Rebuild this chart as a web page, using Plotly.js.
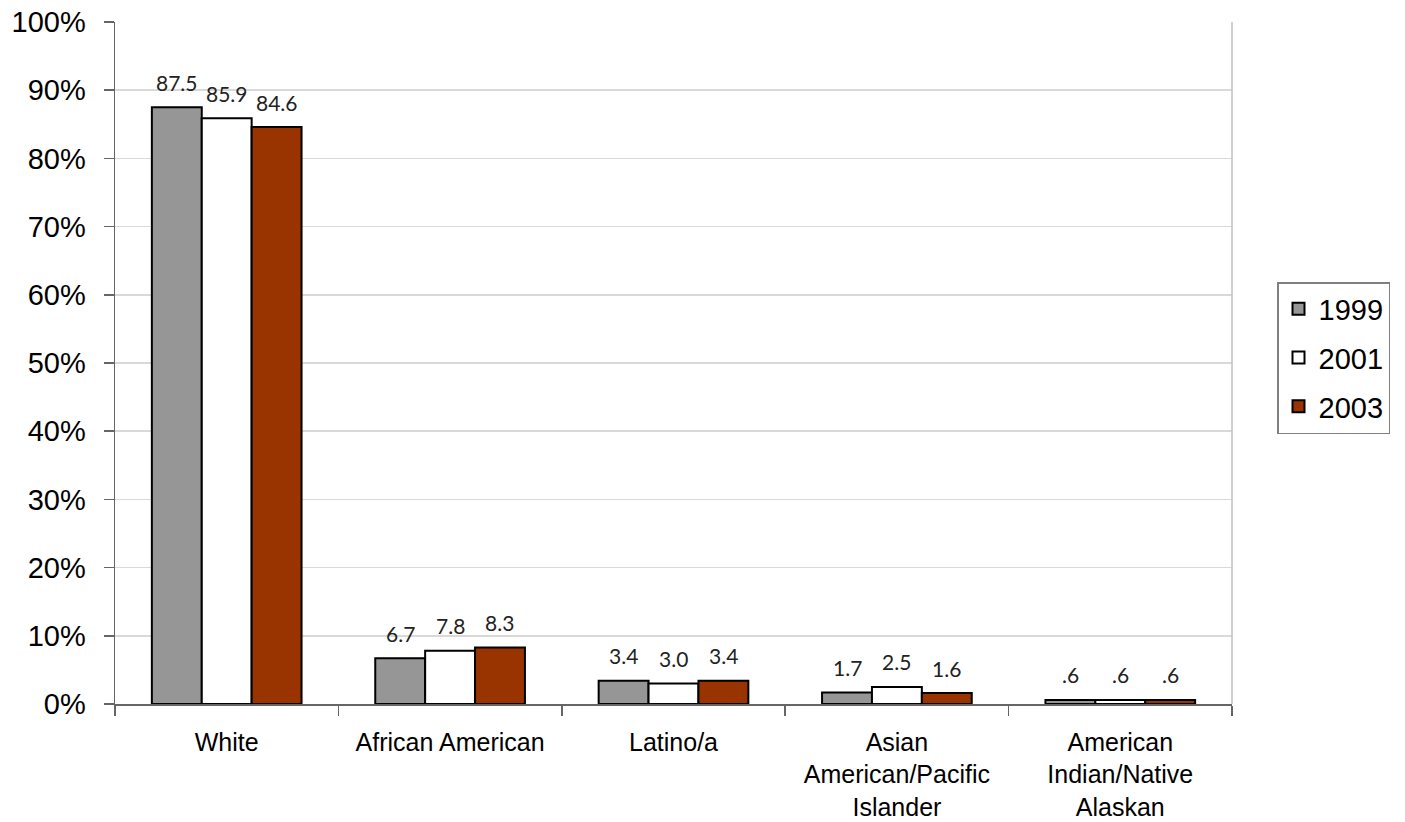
<!DOCTYPE html>
<html>
<head>
<meta charset="utf-8">
<script src="https://cdn.plot.ly/plotly-3.0.1.min.js"></script>
<style>
  html, body { margin: 0; padding: 0; background: #fff; }
  #chart { width: 1405px; height: 822px; }
</style>
</head>
<body>
<div id="chart"></div>
<script>
// Share of students by race/ethnicity, 1999 / 2001 / 2003 (percent)
const categories = [
  'White',
  'African American',
  'Latino/a',
  'Asian<br>American/Pacific<br>Islander',
  'American<br>Indian/Native<br>Alaskan'
];
const years = ['1999', '2001', '2003'];
const values1999 = [87.5, 6.7, 3.4, 1.7, 0.6];
const values2001 = [85.9, 7.8, 3.0, 2.5, 0.6];
const values2003 = [84.6, 8.3, 3.4, 1.6, 0.6];
const labels1999 = ['87.5', '6.7', '3.4', '1.7', '.6'];
const labels2001 = ['85.9', '7.8', '3.0', '2.5', '.6'];
const labels2003 = ['84.6', '8.3', '3.4', '1.6', '.6'];
const yTickValues = [0, 10, 20, 30, 40, 50, 60, 70, 80, 90, 100];
const yTickText = yTickValues.map(v => v + '%');

const series = [values1999, values2001, values2003];
const seriesLabels = [labels1999, labels2001, labels2003];
const fills = ['#969696', '#ffffff', '#993300'];

const W = 1405, H = 822;
const margin = { l: 115, r: 173, t: 22, b: 118 };
const bargap = 0.33;
const plotW = W - margin.l - margin.r;
const catW = plotW / categories.length;
const barPx = catW * (1 - bargap) / years.length;

const traces = years.map((yr, i) => ({
  type: 'bar',
  name: yr,
  x: categories,
  y: series[i],
  legendgroup: yr,
  marker: { color: fills[i], line: { color: '#000000', width: 2 } },
  hoverinfo: 'skip'
}));

// Value labels sit above each bar, shifted sideways to its slot in the group
const annotations = [];
years.forEach((yr, i) => {
  categories.forEach((c, k) => {
    annotations.push({
      x: c, y: series[i][k], xref: 'x', yref: 'y',
      text: seriesLabels[i][k],
      showarrow: false,
      xshift: (i - 1) * barPx,
      yshift: 25,
      yanchor: 'middle',
      font: { family: 'Lato, "DejaVu Sans", sans-serif', size: 21, color: '#222222' }
    });
  });
});

const layout = {
  width: W, height: H,
  margin: margin,
  paper_bgcolor: '#ffffff',
  plot_bgcolor: '#ffffff',
  barmode: 'group',
  bargap: bargap,
  bargroupgap: 0,
  showlegend: true,
  legend: {
    x: (1277 - margin.l) / plotW, xanchor: 'left',
    y: (H - margin.b - 282) / (H - margin.t - margin.b), yanchor: 'top',
    bgcolor: '#ffffff',
    bordercolor: '#808080', borderwidth: 1.5,
    font: { family: '"Liberation Sans", Arial, sans-serif', size: 29, color: '#000000' },
    tracegroupgap: 8,
    itemwidth: 30
  },
  xaxis: {
    type: 'category',
    showline: true, linecolor: '#666666', linewidth: 1.5,
    ticks: 'outside', tickson: 'boundaries', ticklen: 10, tickcolor: '#666666', tickwidth: 1.5,
    showgrid: false,
    tickfont: { family: '"Liberation Sans", Arial, sans-serif', size: 25, color: '#000000' },
    ticklabelstandoff: 15
  },
  yaxis: {
    range: [0, 100],
    tickmode: 'array',
    tickvals: yTickValues,
    ticktext: yTickText,
    showline: true, linecolor: '#666666', linewidth: 1.5,
    ticks: 'outside', ticklen: 10, tickcolor: '#666666', tickwidth: 1.5,
    showgrid: true, gridcolor: '#d9d9d9', gridwidth: 1.5,
    zeroline: false,
    tickfont: { family: '"Liberation Sans", Arial, sans-serif', size: 29, color: '#000000' },
    ticklabelstandoff: 12
  },
  shapes: [{
    type: 'line', xref: 'paper', yref: 'paper',
    x0: 1, x1: 1, y0: 0, y1: 1,
    line: { color: '#c0c0c0', width: 1.5 }
  }],
  annotations: annotations
};

Plotly.newPlot('chart', traces, layout, { displayModeBar: false, staticPlot: true });
</script>
</body>
</html>
